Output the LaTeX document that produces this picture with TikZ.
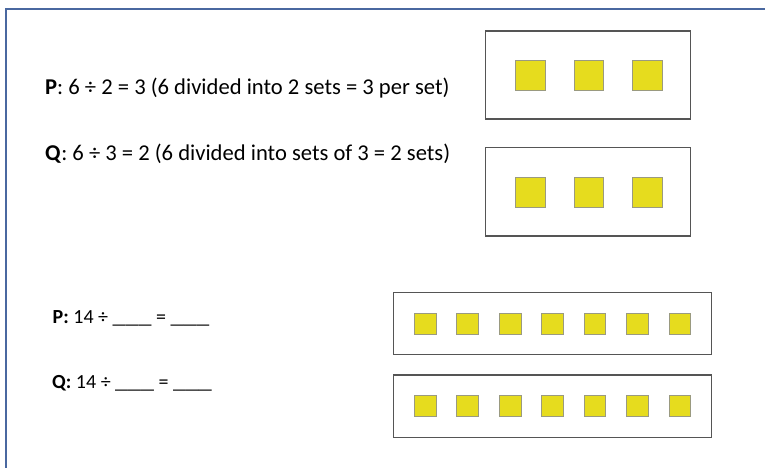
\documentclass[tikz,border=0pt]{standalone}
\usepackage{fontspec}
\setmainfont{Carlito}
\definecolor{frameblue}{HTML}{4A68A0}
\definecolor{boxgray}{HTML}{555555}
\definecolor{sqfill}{HTML}{E6DC1E}
\definecolor{sqline}{HTML}{9A9A80}
\newcommand{\blankline}{\scalebox{1.3}[1]{\_\_\_}}
\tikzset{
  panel/.style={draw=boxgray, line width=1.1pt, fill=white},
  sq/.style={draw=sqline, line width=0.8pt, fill=sqfill},
  bigtxt/.style={anchor=base west, inner sep=0pt, font=\fontsize{22.6}{26}\selectfont},
  smalltxt/.style={anchor=base west, inner sep=0pt, font=\fontsize{20}{24}\selectfont},
}
\begin{document}
\begin{tikzpicture}[x=1pt,y=-1pt]
\useasboundingbox (0,0) rectangle (765,468);
\fill[white] (0,0) rectangle (765,468);
% frame
\coordinate (fTR) at (765,9);
\coordinate (fTL) at (6,9);
\coordinate (fBL) at (6,468);
\draw[frameblue, line width=2pt] (fBL) -- (fTL) -- (fTR);
% texts
\node[bigtxt] (p1) at (45,95) {\textbf{P}: 6 ÷ 2 = 3 (6 divided into 2 sets = 3 per set)};
\node[bigtxt] (q1) at (45,160) {\textbf{Q}: 6 ÷ 3 = 2 (6 divided into sets of 3 = 2 sets)};
\node[smalltxt] (p2) at (52.5,323.3) {\textbf{P:} 14 ÷ \blankline{} = \blankline};
\node[smalltxt] (q2) at (52,388.3) {\textbf{Q:} 14 ÷ \blankline{} = \blankline};
% top panels
\draw[panel] (485.7,31) rectangle (690.7,119);
\draw[panel] (485.7,147.7) rectangle (690.7,236);
\foreach \x [count=\i] in {515.7,574,632.3}{
  \draw[sq] (\x,60.2) rectangle ++(29.7,30);
  \draw[sq] (\x,177.3) rectangle ++(29.7,30);
}
% bottom panels
\draw[panel] (393.3,292.7) rectangle (711.7,354.3);
\draw[panel] (393.3,375) rectangle (711.7,437.3);
\foreach \i in {0,...,6}{
  \draw[sq] (414.3+42.45*\i,313.3) rectangle ++(21.7,21);
  \draw[sq] (414.3+42.45*\i,395.7) rectangle ++(21.7,21);
}
\end{tikzpicture}
\end{document}
